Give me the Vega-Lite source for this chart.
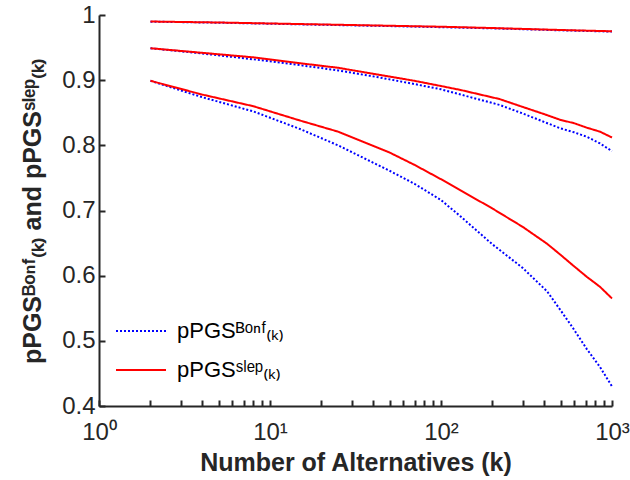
{
  "$schema": "https://vega.github.io/schema/vega-lite/v6.json",
  "width": 513,
  "height": 391,
  "autosize": "none",
  "padding": {"left": 99, "top": 15, "right": 18, "bottom": 74},
  "background": "white",
  "config": {
    "font": "Liberation Sans",
    "view": {"stroke": null},
    "axis": {
      "domainColor": "#262626",
      "domainWidth": 2,
      "tickColor": "#262626",
      "tickWidth": 2,
      "tickSize": -6,
      "labelColor": "#262626",
      "labelFont": "Liberation Sans",
      "labelFontSize": 24,
      "titleColor": "#262626",
      "titleFont": "Liberation Sans",
      "titleFontWeight": "bold",
      "grid": false
    }
  },
  "data": {
    "values": [
      {"k": 2, "v": 0.9898, "series": "Bonf", "group": "t"},
      {"k": 5, "v": 0.9882, "series": "Bonf", "group": "t"},
      {"k": 10, "v": 0.9866, "series": "Bonf", "group": "t"},
      {"k": 20, "v": 0.985, "series": "Bonf", "group": "t"},
      {"k": 50, "v": 0.983, "series": "Bonf", "group": "t"},
      {"k": 100, "v": 0.9813, "series": "Bonf", "group": "t"},
      {"k": 200, "v": 0.9795, "series": "Bonf", "group": "t"},
      {"k": 500, "v": 0.9765, "series": "Bonf", "group": "t"},
      {"k": 1000, "v": 0.9745, "series": "Bonf", "group": "t"},

      {"k": 2, "v": 0.949, "series": "Bonf", "group": "m"},
      {"k": 4, "v": 0.941, "series": "Bonf", "group": "m"},
      {"k": 8, "v": 0.932, "series": "Bonf", "group": "m"},
      {"k": 15, "v": 0.923, "series": "Bonf", "group": "m"},
      {"k": 25, "v": 0.915, "series": "Bonf", "group": "m"},
      {"k": 44, "v": 0.904, "series": "Bonf", "group": "m"},
      {"k": 70, "v": 0.894, "series": "Bonf", "group": "m"},
      {"k": 100, "v": 0.886, "series": "Bonf", "group": "m"},
      {"k": 130, "v": 0.878, "series": "Bonf", "group": "m"},
      {"k": 220, "v": 0.862, "series": "Bonf", "group": "m"},
      {"k": 300, "v": 0.849, "series": "Bonf", "group": "m"},
      {"k": 400, "v": 0.836, "series": "Bonf", "group": "m"},
      {"k": 500, "v": 0.826, "series": "Bonf", "group": "m"},
      {"k": 600, "v": 0.82, "series": "Bonf", "group": "m"},
      {"k": 714, "v": 0.813, "series": "Bonf", "group": "m"},
      {"k": 850, "v": 0.803, "series": "Bonf", "group": "m"},
      {"k": 1000, "v": 0.791, "series": "Bonf", "group": "m"},

      {"k": 2, "v": 0.899, "series": "Bonf", "group": "b"},
      {"k": 4, "v": 0.874, "series": "Bonf", "group": "b"},
      {"k": 8, "v": 0.852, "series": "Bonf", "group": "b"},
      {"k": 15, "v": 0.825, "series": "Bonf", "group": "b"},
      {"k": 25, "v": 0.8, "series": "Bonf", "group": "b"},
      {"k": 50, "v": 0.761, "series": "Bonf", "group": "b"},
      {"k": 70, "v": 0.741, "series": "Bonf", "group": "b"},
      {"k": 100, "v": 0.716, "series": "Bonf", "group": "b"},
      {"k": 130, "v": 0.691, "series": "Bonf", "group": "b"},
      {"k": 200, "v": 0.648, "series": "Bonf", "group": "b"},
      {"k": 300, "v": 0.612, "series": "Bonf", "group": "b"},
      {"k": 417, "v": 0.576, "series": "Bonf", "group": "b"},
      {"k": 500, "v": 0.547, "series": "Bonf", "group": "b"},
      {"k": 590, "v": 0.52, "series": "Bonf", "group": "b"},
      {"k": 714, "v": 0.487, "series": "Bonf", "group": "b"},
      {"k": 850, "v": 0.46, "series": "Bonf", "group": "b"},
      {"k": 1000, "v": 0.43, "series": "Bonf", "group": "b"},

      {"k": 2, "v": 0.99, "series": "Slep", "group": "t"},
      {"k": 5, "v": 0.9885, "series": "Slep", "group": "t"},
      {"k": 10, "v": 0.987, "series": "Slep", "group": "t"},
      {"k": 20, "v": 0.9855, "series": "Slep", "group": "t"},
      {"k": 50, "v": 0.9835, "series": "Slep", "group": "t"},
      {"k": 100, "v": 0.982, "series": "Slep", "group": "t"},
      {"k": 200, "v": 0.98, "series": "Slep", "group": "t"},
      {"k": 500, "v": 0.977, "series": "Slep", "group": "t"},
      {"k": 1000, "v": 0.975, "series": "Slep", "group": "t"},

      {"k": 2, "v": 0.949, "series": "Slep", "group": "m"},
      {"k": 4, "v": 0.942, "series": "Slep", "group": "m"},
      {"k": 8, "v": 0.935, "series": "Slep", "group": "m"},
      {"k": 15, "v": 0.926, "series": "Slep", "group": "m"},
      {"k": 25, "v": 0.919, "series": "Slep", "group": "m"},
      {"k": 44, "v": 0.908, "series": "Slep", "group": "m"},
      {"k": 70, "v": 0.899, "series": "Slep", "group": "m"},
      {"k": 100, "v": 0.891, "series": "Slep", "group": "m"},
      {"k": 130, "v": 0.885, "series": "Slep", "group": "m"},
      {"k": 220, "v": 0.871, "series": "Slep", "group": "m"},
      {"k": 300, "v": 0.859, "series": "Slep", "group": "m"},
      {"k": 400, "v": 0.848, "series": "Slep", "group": "m"},
      {"k": 500, "v": 0.839, "series": "Slep", "group": "m"},
      {"k": 600, "v": 0.834, "series": "Slep", "group": "m"},
      {"k": 714, "v": 0.827, "series": "Slep", "group": "m"},
      {"k": 850, "v": 0.821, "series": "Slep", "group": "m"},
      {"k": 1000, "v": 0.812, "series": "Slep", "group": "m"},

      {"k": 2, "v": 0.899, "series": "Slep", "group": "b"},
      {"k": 4, "v": 0.878, "series": "Slep", "group": "b"},
      {"k": 8, "v": 0.86, "series": "Slep", "group": "b"},
      {"k": 15, "v": 0.838, "series": "Slep", "group": "b"},
      {"k": 25, "v": 0.821, "series": "Slep", "group": "b"},
      {"k": 50, "v": 0.789, "series": "Slep", "group": "b"},
      {"k": 70, "v": 0.77, "series": "Slep", "group": "b"},
      {"k": 100, "v": 0.748, "series": "Slep", "group": "b"},
      {"k": 130, "v": 0.731, "series": "Slep", "group": "b"},
      {"k": 200, "v": 0.703, "series": "Slep", "group": "b"},
      {"k": 300, "v": 0.675, "series": "Slep", "group": "b"},
      {"k": 417, "v": 0.649, "series": "Slep", "group": "b"},
      {"k": 500, "v": 0.632, "series": "Slep", "group": "b"},
      {"k": 590, "v": 0.616, "series": "Slep", "group": "b"},
      {"k": 714, "v": 0.598, "series": "Slep", "group": "b"},
      {"k": 850, "v": 0.583, "series": "Slep", "group": "b"},
      {"k": 1000, "v": 0.565, "series": "Slep", "group": "b"}
    ]
  },
  "mark": {"type": "line", "strokeWidth": 2, "clip": false},
  "encoding": {
    "x": {
      "field": "k",
      "type": "quantitative",
      "scale": {"type": "log", "domain": [1, 1000], "nice": false},
      "axis": {
        "values": [1, 2, 3, 4, 5, 6, 7, 8, 9, 10, 20, 30, 40, 50, 60, 70, 80, 90, 100, 200, 300, 400, 500, 600, 700, 800, 900, 1000],
        "labelExpr": "datum.value == 1 ? '10⁰' : datum.value == 10 ? '10¹' : datum.value == 100 ? '10²' : datum.value == 1000 ? '10³' : ''",
        "labelPadding": 20,
        "labelFlush": false,
        "labelOverlap": false,
        "title": "Number of Alternatives (k)",
        "titleFontSize": 25,
        "titlePadding": 6
      }
    },
    "y": {
      "field": "v",
      "type": "quantitative",
      "scale": {"domain": [0.4, 1], "nice": false, "zero": false},
      "axis": {
        "values": [0.4, 0.5, 0.6, 0.7, 0.8, 0.9, 1],
        "labelExpr": "datum.value == 1 ? '1' : format(datum.value, '.1f')",
        "labelPadding": 10,
        "title": "pPGSᴮᵒⁿᶠ₍ₖ₎ and pPGSˢˡᵉᵖ₍ₖ₎",
        "titleFontSize": 25,
        "titlePadding": 16
      }
    },
    "detail": {"field": "group"},
    "color": {
      "field": "series",
      "type": "nominal",
      "scale": {"domain": ["Bonf", "Slep"], "range": ["#0000ff", "#ff0000"]},
      "legend": {
        "title": null,
        "orient": "none",
        "legendX": 16,
        "legendY": 290,
        "labelExpr": "datum.value == 'Bonf' ? 'pPGSᴮᵒⁿᶠ₍ₖ₎' : 'pPGSˢˡᵉᵖ₍ₖ₎'",
        "labelFontSize": 22,
        "labelColor": "#000000",
        "labelFont": "Liberation Sans",
        "symbolType": "stroke",
        "symbolSize": 2500,
        "symbolStrokeWidth": 2,
        "rowPadding": 2,
        "labelOffset": 10
      }
    },
    "strokeDash": {
      "field": "series",
      "type": "nominal",
      "scale": {"domain": ["Bonf", "Slep"], "range": [[2, 2], [1, 0]]},
      "legend": null
    }
  }
}
